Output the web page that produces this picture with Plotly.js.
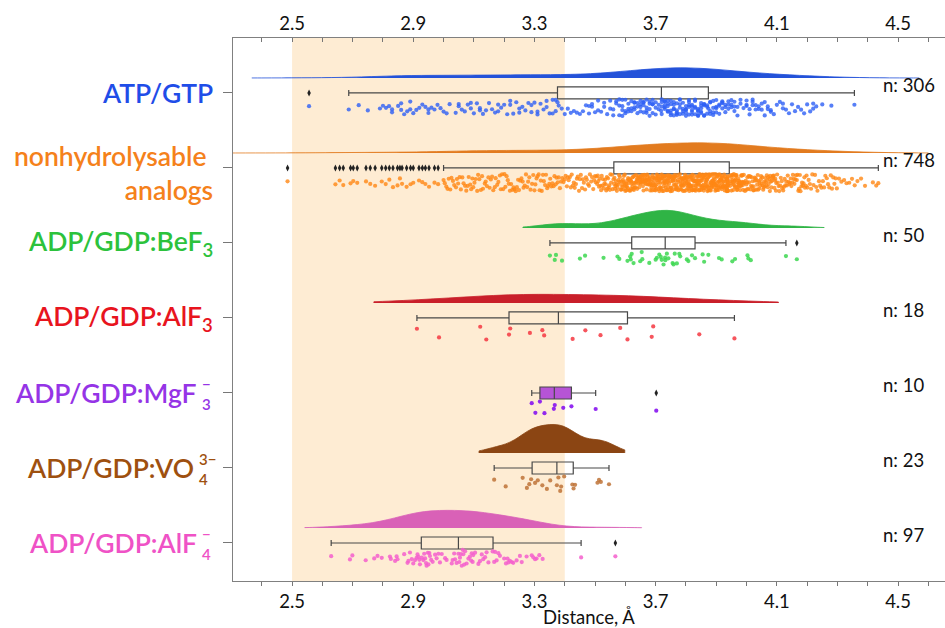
<!DOCTYPE html>
<html><head><meta charset="utf-8">
<script src="https://cdn.plot.ly/plotly-3.0.1.min.js"></script>
<style>html,body{margin:0;padding:0;background:#fff}#chart{width:945px;height:628px}</style>
</head><body><div id="chart"></div>
<script>
// ---------------- DATA ----------------
const categories = ['ATP/GTP','nonhydrolysable analogs','ADP/GDP:BeF3','ADP/GDP:AlF3','ADP/GDP:MgF3-','ADP/GDP:VO4 3-','ADP/GDP:AlF4-'];
const labelMain = ['ATP/GTP','nonhydrolysable\u00a0<br>analogs','ADP/GDP:BeF<sub>3</sub>','ADP/GDP:AlF<sub>3</sub>','ADP/GDP:MgF','ADP/GDP:VO','ADP/GDP:AlF'];
const labelSub = ['','','','','3','4','4'];
const labelSup = ['','','','','\u2212','3\u2212','\u2212'];
const tickValues = [2.5, 2.9, 3.3, 3.7, 4.1, 4.5];
const tickLabels = ['2.5','2.9','3.3','3.7','4.1','4.5'];
const shadeBand = [2.5, 3.4];

const atp = [
2.556,2.687,2.72,2.75,2.79,
2.80,2.81,2.82,2.83,2.83,2.85,2.86,2.86,2.87,2.88,2.89,2.89,
2.90,2.91,2.92,2.93,2.94,2.95,2.95,2.96,2.97,2.98,2.99,
3.00,3.01,3.02,3.04,3.05,3.05,3.06,3.07,3.08,3.09,3.09,
3.10,3.11,3.12,3.12,3.13,3.14,3.15,3.16,3.17,3.18,3.18,3.19,
3.20,3.21,3.22,3.22,3.23,3.24,3.25,3.25,3.26,3.27,3.28,3.29,3.29,
3.30,3.31,3.31,3.32,3.33,3.34,3.34,3.35,3.36,3.36,3.37,3.37,
3.376,3.38,3.39,3.40,3.41,3.42,3.43,3.44,3.45,3.46,3.47,3.48,3.48,3.49,3.49,
3.50,3.51,3.51,3.52,3.53,3.53,3.54,3.55,3.55,3.56,3.56,3.57,3.57,3.58,3.58,3.58,3.59,3.59,3.59,3.59,
3.60,3.60,3.60,3.61,3.61,3.61,3.62,3.62,3.62,3.63,3.63,3.63,3.63,3.64,3.64,3.64,3.65,3.65,3.65,3.65,
3.66,3.66,3.66,3.66,3.67,3.67,3.67,3.67,3.68,3.68,3.68,3.68,3.69,3.69,3.69,3.69,3.70,3.70,3.70,3.71,3.71,3.718,
3.72,3.72,3.72,3.72,3.73,3.73,3.73,3.73,3.73,3.74,3.74,3.74,3.74,3.74,3.75,3.75,3.75,3.75,3.75,
3.76,3.76,3.76,3.76,3.76,3.77,3.77,3.77,3.77,3.77,3.78,3.78,3.78,3.78,3.78,3.79,3.79,3.79,3.79,
3.80,3.80,3.80,3.80,3.80,3.81,3.81,3.81,3.81,3.81,3.82,3.82,3.82,3.82,3.82,3.83,3.83,3.83,3.83,3.83,
3.84,3.84,3.84,3.84,3.84,3.85,3.85,3.85,3.85,3.85,3.86,3.86,3.86,3.86,3.86,3.87,3.87,3.87,
3.874,3.88,3.88,3.88,3.88,3.89,3.89,3.89,3.89,3.90,3.90,3.90,3.90,3.91,3.91,3.91,3.92,3.92,3.92,3.92,
3.93,3.93,3.93,3.94,3.94,3.94,3.95,3.95,3.95,3.96,3.96,3.96,3.97,3.97,3.98,3.98,3.99,
4.00,4.00,4.00,4.01,4.01,4.02,4.02,4.02,4.03,4.03,4.04,4.04,4.05,4.05,4.06,4.06,4.07,4.07,4.08,4.08,4.09,
4.10,4.11,4.12,4.12,4.13,4.14,4.15,4.16,4.17,4.18,4.19,
4.20,4.21,4.22,4.22,4.23,4.25,4.28,4.356
];

const nonhydrolysable = [
2.485,2.643,2.657,2.669,2.693,2.702,2.715,2.744,2.758,2.774,2.796,2.809,2.821,2.833,2.848,2.856,2.863,2.878,2.891,2.900,2.919,2.930,2.940,2.952,2.970,2.982,
3.000,3.004,3.009,3.013,3.017,3.022,3.026,3.031,3.035,3.041,3.044,3.048,3.053,3.057,3.062,3.066,3.071,3.075,3.079,3.083,3.088,3.091,3.095,3.098,
3.102,3.106,3.111,3.114,3.118,3.123,3.127,3.130,3.136,3.139,3.143,3.148,3.152,3.156,3.160,3.164,3.169,3.172,3.177,3.181,3.186,3.189,3.193,3.197,
3.201,3.204,3.208,3.212,3.215,3.219,3.223,3.227,3.231,3.234,3.238,3.242,3.246,3.249,3.253,3.257,3.261,3.264,3.268,3.272,3.276,3.279,3.283,3.287,3.292,3.296,
3.300,3.303,3.307,3.310,3.314,3.317,3.321,3.324,3.328,3.331,3.335,3.338,3.342,3.345,3.349,3.352,3.356,3.359,3.363,3.366,3.370,3.373,3.377,3.380,3.384,3.388,3.392,3.396,
3.400,3.403,3.407,3.410,3.413,3.417,3.420,3.423,3.427,3.430,3.433,3.437,3.440,3.443,3.447,3.450,3.453,3.457,3.460,3.463,3.467,3.470,3.473,3.477,3.480,3.483,3.487,3.490,3.494,3.497,
3.500,3.502,3.504,3.507,3.509,3.511,3.513,3.515,3.518,3.520,3.522,3.524,3.526,3.529,3.531,3.533,3.535,3.537,3.539,3.541,3.543,3.545,3.547,3.549,3.551,3.553,3.556,3.558,3.561,
3.563,3.564,3.566,3.567,3.569,3.571,3.572,3.574,3.576,3.577,3.579,3.581,3.582,3.584,3.586,3.587,3.589,3.590,3.592,3.593,3.594,3.595,3.597,3.598,3.599,
3.600,3.601,3.603,3.604,3.605,3.606,3.608,3.609,3.610,3.611,3.613,3.614,3.615,3.616,3.618,3.619,
3.620,3.621,3.623,3.624,3.625,3.626,3.628,3.629,3.630,3.631,3.633,3.634,3.635,3.636,3.638,3.639,
3.640,3.641,3.643,3.644,3.645,3.646,3.648,3.649,
3.650,3.651,3.652,3.653,3.655,3.656,3.657,3.658,3.659,3.660,3.661,3.662,3.664,3.665,3.666,3.667,3.668,3.669,
3.670,3.671,3.672,3.673,3.675,3.676,3.677,3.678,3.679,3.680,3.681,3.682,3.684,3.685,3.686,3.687,3.688,3.689,
3.690,3.691,3.692,3.693,3.695,3.696,3.697,3.698,3.699,
3.700,3.701,3.702,3.703,3.704,3.705,3.706,3.707,3.708,3.709,3.710,3.711,3.712,3.713,3.714,3.715,3.716,3.717,3.718,3.719,
3.720,3.721,3.722,3.723,3.724,3.725,3.726,3.727,3.728,3.729,3.730,3.731,3.732,3.733,3.734,3.735,3.736,3.737,3.738,3.739,
3.740,3.741,3.742,3.743,3.744,3.745,3.746,3.747,3.748,3.749,3.750,3.751,3.752,3.753,3.754,3.755,3.756,3.757,3.758,3.759,
3.760,3.761,3.762,3.763,3.764,3.765,3.766,3.767,3.768,3.769,3.770,3.771,3.772,3.773,3.775,3.776,3.778,
3.780,3.781,3.782,3.783,3.784,3.785,3.785,3.786,3.787,3.788,3.789,
3.790,3.791,3.792,3.793,3.794,3.795,3.795,3.796,3.797,3.798,3.799,
3.800,3.801,3.802,3.803,3.804,3.805,3.805,3.806,3.807,3.808,3.809,
3.810,3.811,3.812,3.813,3.814,3.815,3.815,3.816,3.817,3.818,3.819,
3.820,3.821,3.822,3.823,3.824,3.825,3.825,3.826,3.827,3.828,3.829,
3.830,3.831,3.832,3.833,3.834,3.835,3.835,3.836,3.837,3.838,3.839,
3.840,3.841,3.842,3.843,3.844,3.845,3.845,3.846,3.847,3.848,3.849,
3.850,3.851,3.852,3.853,3.854,3.855,3.855,3.856,3.857,3.858,3.859,
3.860,3.861,3.862,3.863,3.864,3.865,3.865,3.866,3.867,3.868,3.869,
3.870,3.871,3.872,3.873,3.874,3.875,3.875,3.876,3.877,3.878,3.879,
3.880,3.881,3.882,3.883,3.884,3.885,3.885,3.886,3.887,3.888,3.889,
3.890,3.891,3.892,3.893,3.894,3.895,3.895,3.896,3.897,3.898,3.899,
3.900,3.901,3.902,3.903,3.904,3.905,3.905,3.906,3.907,3.908,3.909,
3.910,3.911,3.912,3.913,3.914,3.915,3.915,3.916,3.917,3.918,3.919,
3.920,3.921,3.922,3.923,3.924,3.925,3.925,3.926,3.927,3.928,3.929,
3.930,3.931,3.932,3.933,3.934,3.935,3.935,3.936,3.937,3.938,3.939,
3.935,3.935,3.936,3.936,3.937,3.937,3.938,3.938,3.939,3.939,3.940,
3.946,3.947,3.948,3.949,3.950,3.951,3.952,3.953,3.954,3.955,3.956,3.957,3.958,3.959,3.960,3.961,3.962,3.963,3.964,3.965,
3.966,3.967,3.968,3.969,3.970,3.971,3.972,3.973,3.974,3.975,3.976,3.977,3.978,3.979,3.980,3.981,3.982,3.983,3.984,3.985,
3.986,3.987,3.988,3.989,3.990,3.991,3.993,3.995,3.997,3.999,
4.000,4.002,4.003,4.005,4.007,4.008,4.010,4.012,4.013,4.015,4.017,4.018,4.020,4.022,4.023,4.025,4.027,4.028,
4.030,4.032,4.033,4.035,4.037,4.038,4.040,4.042,4.043,4.045,4.047,4.048,4.050,4.052,4.053,4.055,4.057,4.058,
4.060,4.062,4.063,4.065,4.067,4.068,4.070,4.072,4.073,4.075,4.077,4.078,4.080,4.082,4.083,4.085,4.087,4.088,
4.090,4.092,4.093,4.095,4.097,4.098,
4.101,4.103,4.106,4.108,4.111,4.113,4.116,4.118,4.121,4.123,4.126,4.128,4.131,4.133,4.136,4.138,4.141,4.143,4.146,4.148,
4.151,4.153,4.156,4.158,4.161,4.163,4.166,4.168,4.171,4.173,4.176,4.178,4.181,4.183,4.186,4.188,4.191,4.193,4.196,4.198,
4.201,4.205,4.209,4.213,4.217,4.221,4.226,4.230,4.234,4.239,4.243,4.247,4.252,4.256,4.260,4.265,4.269,4.273,4.278,4.282,4.286,4.290,4.294,4.298,
4.305,4.313,4.322,4.330,4.339,4.348,4.357,4.366,4.378,4.391,
4.417,4.428,4.435
];

const bef3 = [3.351,3.367,3.371,3.391,3.450,3.467,3.528,3.574,3.580,3.607,
3.616,3.618,3.621,3.627,3.649,3.654,3.656,3.679,3.700,3.704,
3.712,3.717,3.720,3.726,3.731,3.732,3.737,3.742,3.756,3.759,
3.763,3.770,3.778,3.781,3.803,3.808,3.820,3.830,3.855,3.860,
3.874,3.909,3.918,3.953,3.962,4.003,4.006,4.014,4.130,4.166];

const alf3 = [2.912,2.985,3.121,3.141,3.216,3.220,3.285,3.326,3.332,3.426,3.468,3.518,3.583,3.607,3.687,3.692,3.844,3.960];

const mgf3 = [3.291,3.303,3.318,3.333,3.364,3.367,3.395,3.422,3.502,3.702];

const vo4 = [3.167,3.205,3.261,3.275,3.283,3.289,3.302,3.311,3.326,3.341,3.352,3.374,3.379,3.385,3.388,3.398,3.425,3.429,3.434,3.508,3.513,3.519,3.546];

const alf4 = [2.629,2.691,2.699,2.743,2.771,2.782,2.796,2.823,2.826,2.840,2.845,2.848,2.870,2.881,2.884,2.889,2.895,2.900,2.906,2.911,
2.914,2.917,2.920,2.922,2.928,2.933,2.936,2.939,2.942,2.944,2.948,2.950,2.953,2.955,2.959,2.964,2.972,2.977,2.983,2.988,
2.994,3.005,3.010,3.027,3.030,3.035,3.038,3.043,3.049,3.052,3.054,3.057,3.060,3.063,3.065,3.068,3.071,3.076,3.082,3.087,
3.091,3.093,3.096,3.098,3.104,3.115,3.120,3.126,3.131,3.137,3.142,3.148,3.162,3.167,3.170,3.175,3.181,3.186,3.200,3.206,
3.211,3.214,3.219,3.225,3.230,3.241,3.252,3.258,3.274,3.291,3.296,3.302,3.307,3.316,3.327,3.454,3.567];

const series = [atp, nonhydrolysable, bef3, alf3, mgf3, vo4, alf4];
// density curve extents (start, end); MgF3 has no curve
const violinSpan = [[2.367, 4.57], [2.28, 4.60], [3.262, 4.256], [2.77, 4.105], null, [3.117, 3.598], [2.542, 3.654]];

// ---------------- STYLE ----------------
const labelColors  = ['#1f4de8','#f5811b','#2cc23c','#e8141e','#9534e6','#9e500f','#ef52c6'];
const violinColors = ['#2352d9','#e27b1f','#2fb445','#c91f2a', null, '#8b4513','#d961b7'];
const pointColors  = ['rgba(45,95,245,0.8)','rgba(255,135,20,0.8)','rgba(60,215,80,0.85)','rgba(245,55,65,0.85)','rgba(135,20,240,0.9)','rgba(190,115,55,0.85)','rgba(245,95,205,0.85)'];
const violinWidth  = [0.27, 0.27, 0.47, 0.23, 0, 0.76, 0.47];
const violinBw     = [0.1, 0.1, 0.065, 0.15, 0, 0.045, 0.075];
const boxFill      = ['rgba(0,0,0,0)','rgba(0,0,0,0)','rgba(0,0,0,0)','rgba(0,0,0,0)','#b654d6','rgba(0,0,0,0)','rgba(0,0,0,0)'];
const LABEL_FONT = 'Lato, sans-serif';

const N = categories.length;
const traces = [];
series.forEach((vals, i) => {
  if (!violinColors[i]) return;
  traces.push({
    type:'violin', orientation:'h', x: vals, y0: (N-1-i) + 0.2, name: categories[i],
    side:'positive', width: violinWidth[i], bandwidth: violinBw[i], spanmode:'manual', span: violinSpan[i], scalemode:'width',
    points:false, box:{visible:false}, meanline:{visible:false},
    fillcolor: violinColors[i], line:{color: violinColors[i], width:0.8}, hoverinfo:'skip'
  });
});
series.forEach((vals, i) => {
  traces.push({
    type:'box', orientation:'h', x: vals, y0: N-1-i, name: categories[i],
    width: 0.16, whiskerwidth: 0.5, boxpoints:'outliers', pointpos:0, jitter:0,
    fillcolor: boxFill[i], line:{color:'#484848', width:1.2},
    marker:{symbol:'diamond-tall', size:5, color:'#222', line:{width:0}}, hoverinfo:'skip'
  });
});
series.forEach((vals, i) => {
  traces.push({
    type:'box', orientation:'h', x: vals, y0: N-1-i, name: categories[i], xaxis:'x2',
    width: 0.23, boxpoints:'all', pointpos:-1.7, jitter:1, whiskerwidth:0,
    fillcolor:'rgba(0,0,0,0)', line:{color:'rgba(0,0,0,0)', width:0},
    marker:{size:4.2, color: pointColors[i], line:{width:0}}, hoverinfo:'skip'
  });
});

const annotations = [];
const plotLeft = 233, plotW = 712;
const px = p => (p - plotLeft) / plotW;
series.forEach((vals, i) => {
  const pos = N-1-i;
  const stacked = labelSub[i] !== '';
  const rightEdge = stacked ? (i === 5 ? 196 : 199) : 215;
  annotations.push({xref:'paper', yref:'y', x: px(rightEdge), y: pos, xanchor:'right', yanchor:'middle',
    align:'right', showarrow:false, text: labelMain[i], yshift: i === 1 ? -5 : 0,
    font:{family:LABEL_FONT, size:26.5, weight:600, color: labelColors[i]}});
  if (stacked) {
    // superscript stacked over subscript, as one two-line text
    annotations.push({xref:'paper', yref:'y', x: px(rightEdge+1), y: pos, xanchor:'left', yanchor:'middle',
      align:'left', showarrow:false, text: labelSup[i] + '<br>' + labelSub[i], yshift:-1,
      font:{family:LABEL_FONT, size:15, weight:600, color: labelColors[i]}});
  }
  annotations.push({xref:'paper', yref:'y', x: px(881), y: pos + 0.113, xanchor:'left', yanchor:'middle',
    showarrow:false, text: 'n: ' + vals.length, font:{family:'Lato, sans-serif', size:18.5, color:'#111'}});
});

const axisCommon = {
  range:[2.305, 4.655], tickmode:'array', tickvals: tickValues, ticktext: tickLabels,
  ticklen:4, tickcolor:'#777', tickwidth:1, showline:true, linecolor:'#808080', linewidth:1,
  showgrid:false, zeroline:false, tickfont:{family:'Lato, sans-serif', size:18.5, color:'#111'},
  minor:{tick0:2.5, dtick:0.1, ticklen:4, tickcolor:'#777', showgrid:false}
};

const layout = {
  width:945, height:628, margin:{l:233, r:0, t:38, b:47},
  paper_bgcolor:'#ffffff', plot_bgcolor:'rgba(0,0,0,0)', showlegend:false,
  font:{family:'Lato, sans-serif', color:'#111'},
  xaxis: Object.assign({}, axisCommon, {ticks:'outside', minor:Object.assign({}, axisCommon.minor, {ticks:'outside'}),
    title:{text:'Distance, \u00c5', font:{family:'Lato, sans-serif', size:18.5, color:'#111'}, standoff:1}}),
  xaxis2: Object.assign({}, axisCommon, {overlaying:'x', side:'top', anchor:'y', ticks:'inside',
    minor:Object.assign({}, axisCommon.minor, {ticks:'inside'})}),
  yaxis:{range:[-0.507, 6.733], tickmode:'array', tickvals:[0,1,2,3,4,5,6], showticklabels:false,
    ticks:'outside', ticklen:9, tickcolor:'#777', showline:true, linecolor:'#808080', linewidth:1,
    showgrid:false, zeroline:false},
  violinmode:'overlay', boxmode:'overlay',
  shapes:[{type:'rect', xref:'x', yref:'paper', x0: shadeBand[0], x1: shadeBand[1], y0:0, y1:1,
    fillcolor:'#feecd3', line:{width:0}, layer:'below'}],
  annotations: annotations
};

Plotly.newPlot('chart', traces, layout, {displayModeBar:false, staticPlot:true});
</script>
</body></html>
